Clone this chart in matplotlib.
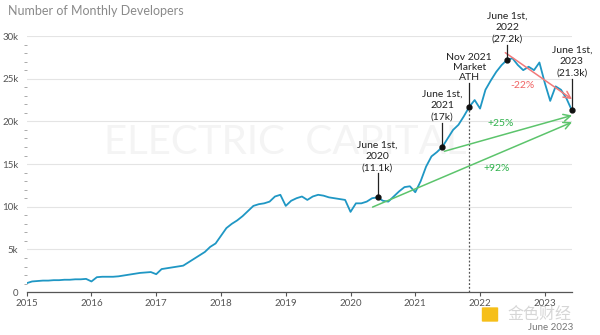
import matplotlib
matplotlib.use('Agg')
import matplotlib.pyplot as plt
import numpy as np
from matplotlib.ticker import MultipleLocator, FuncFormatter
from matplotlib.patches import FancyBboxPatch

plt.rcParams['font.family'] = ['Lato', 'Noto Sans CJK SC', 'DejaVu Sans']

# ---- data (monthly developers, thousands), Jan 2015 .. Jun 2023 ----
start_year = 2015
dev_2015 = [1.05, 1.25, 1.3, 1.35, 1.35, 1.4, 1.4, 1.45, 1.45, 1.5, 1.5, 1.55]
dev_2016 = [1.25, 1.75, 1.8, 1.8, 1.8, 1.85, 1.95, 2.05, 2.15, 2.25, 2.3, 2.35]
dev_2017 = [2.1, 2.7, 2.8, 2.9, 3.0, 3.1, 3.5, 3.9, 4.3, 4.7, 5.3, 5.7]
dev_2018 = [6.6, 7.5, 8.0, 8.4, 8.9, 9.5, 10.1, 10.3, 10.4, 10.6, 11.2, 11.4]
dev_2019 = [10.1, 10.7, 11.0, 11.2, 10.8, 11.2, 11.4, 11.3, 11.1, 11.0, 10.9, 10.8]
dev_2020 = [9.4, 10.4, 10.4, 10.6, 11.0, 11.1, 10.7, 10.6, 11.2, 11.8, 12.3, 12.4]
dev_2021 = [11.7, 13.0, 14.7, 15.9, 16.4, 17.0, 18.0, 19.0, 19.6, 20.6, 21.7, 22.5]
dev_2022 = [21.5, 23.7, 24.8, 25.8, 26.6, 27.2, 27.4, 26.6, 26.0, 26.4, 26.0, 26.9]
dev_2023 = [24.5, 22.4, 24.1, 23.7, 22.7, 21.3]
developers = dev_2015 + dev_2016 + dev_2017 + dev_2018 + dev_2019 + dev_2020 + dev_2021 + dev_2022 + dev_2023

year_ticks = [2015, 2016, 2017, 2018, 2019, 2020, 2021, 2022, 2023]
y_ticks = [0, 5, 10, 15, 20, 25, 30]

# annotated months (index into developers)
ann_idx = [65, 77, 82, 89, 101]
ann_text = ["June 1st,\n2020\n(11.1k)", "June 1st,\n2021\n(17k)", "Nov 2021\nMarket\nATH",
            "June 1st,\n2022\n(27.2k)", "June 1st,\n2023\n(21.3k)"]
ann_text_y = [14.0, 19.95, 24.6, 29.1, 25.1]

pct_labels = ["-22%", "+25%", "+92%"]
pct_pos = [(2022.65, 24.25), (2022.32, 19.8), (2022.26, 14.5)]
pct_colors = ['#f06464', '#2fb24c', '#2fb24c']
arrow_start = [(2022.39, 28.05), (2021.45, 16.5), (2020.34, 9.96)]
arrow_end = [(2023.42, 22.6), (2023.42, 20.7), (2023.42, 19.9)]
arrow_colors = ['#f27a7a', '#5cc46c', '#5cc46c']

x = start_year + np.arange(len(developers)) / 12.0
y = np.array(developers)

fig = plt.figure(figsize=(6, 3.35), dpi=100)
ax = fig.add_axes([0.0445, 0.128, 0.9085, 0.7645])

# watermark (behind the data)
ax.text(0.475, 0.585, "ELECTRIC  CAPITAL", transform=ax.transAxes, fontsize=29,
        color='#f4f4f4', ha='center', va='center', zorder=0.5)

ax.plot(x, y, color='#1f97c4', lw=1.3, zorder=3, solid_joinstyle='round')

ax.set_xlim(start_year, x[-1])
ax.set_ylim(0, 30)

for s in ['top', 'right', 'left']:
    ax.spines[s].set_visible(False)
ax.spines['bottom'].set_color('#555555')
ax.spines['bottom'].set_linewidth(0.9)

ax.set_xticks(year_ticks)
ax.set_xticklabels([str(v) for v in year_ticks])
ax.tick_params(axis='x', length=3, width=0.8, color='#555555', labelsize=7,
               labelcolor='#555555', pad=2)
ax.set_yticks(y_ticks)
ax.yaxis.set_major_formatter(FuncFormatter(lambda v, p: "0" if v == 0 else f"{int(v)}k"))
ax.yaxis.set_minor_locator(MultipleLocator(1))
ax.tick_params(axis='y', which='major', length=0, labelsize=7, labelcolor='#555555', pad=6)
ax.tick_params(axis='y', which='minor', length=2, width=0.7, color='#aaaaaa')
ax.grid(axis='y', which='major', color='#e4e4e4', lw=0.8, zorder=0)
ax.set_axisbelow(True)

# dotted vertical line at Nov 2021
xn = x[82]
ax.plot([xn, xn], [0, y[82]], color='#555555', lw=0.9, ls=(0, (1.5, 1.5)), zorder=2)

# arrows
for st, en, c in zip(arrow_start, arrow_end, arrow_colors):
    ax.annotate('', xy=en, xytext=st, annotation_clip=False,
                arrowprops=dict(arrowstyle='->,head_length=0.5,head_width=0.25', color=c,
                                lw=1.1, shrinkA=0, shrinkB=0), zorder=4)
for t, p, c in zip(pct_labels, pct_pos, pct_colors):
    ax.text(p[0], p[1], t, color=c, fontsize=7.5, ha='center', va='center', zorder=5)

# annotation stems + markers + labels
for i, txt, ty in zip(ann_idx, ann_text, ann_text_y):
    xm, ym = x[i], y[i]
    ax.plot([xm, xm], [ym, ty - 0.1], color='#222222', lw=0.9, clip_on=False, zorder=5)
    ax.plot([xm], [ym], 'o', color='#111111', ms=3.5, clip_on=False, zorder=6)
    ls = 1.15 if 'Nov' in txt else 1.35
    ax.text(xm, ty, txt, ha='center', va='bottom', fontsize=7.5, color='#222222',
            linespacing=ls, zorder=6, clip_on=False)

# title
fig.text(0.013, 1 - 11 / 335, "Number of Monthly Developers", fontsize=9, color='#8a8a8a',
         ha='left', va='center')

# footer / watermark logo
fig.text(0.955, 1 - 328 / 335, "June 2023", fontsize=7, color='#777777', ha='right', va='center')
fig.patches.append(FancyBboxPatch((483 / 600, 1 - 321 / 335), 14 / 600, 13 / 335,
                                  boxstyle='round,pad=0.002', transform=fig.transFigure,
                                  facecolor='#f5b800', edgecolor='none', alpha=0.9, zorder=10))
fig.text(0.845, 1 - 314.5 / 335, "金色财经", fontsize=11.5, color='#d2d2d2', ha='left', va='center',
         family=['Noto Sans CJK SC', 'DejaVu Sans'], alpha=0.9, zorder=11)

fig.savefig('out.png', dpi=100, facecolor='white')
